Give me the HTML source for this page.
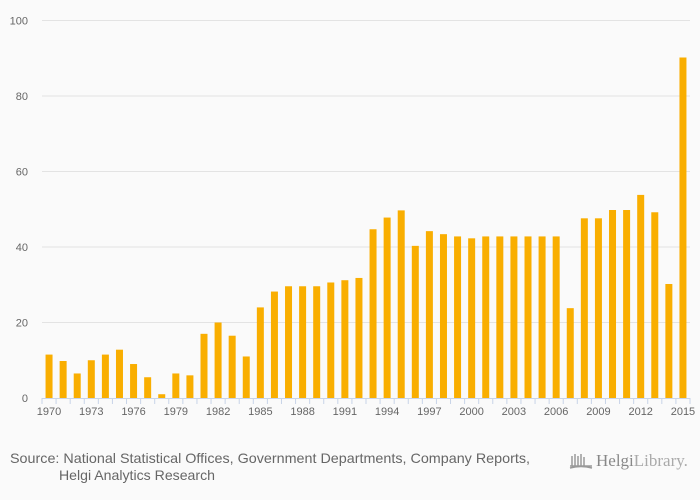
<!DOCTYPE html>
<html><head><meta charset="utf-8"><style>
body{margin:0;background:#fafafa;}
svg{display:block;font-family:"Liberation Sans",sans-serif;}
</style></head><body>
<svg id="chart" width="700" height="500" viewBox="0 0 700 500">
<rect width="700" height="500" fill="#fafafa"/>
<g id="grid"></g><g id="bars"></g><g id="xaxis"></g>
<text x="10" y="463" font-size="14" fill="#666" textLength="520" lengthAdjust="spacingAndGlyphs">Source: National Statistical Offices, Government Departments, Company Reports,</text>
<text x="59" y="480" font-size="14" fill="#666" textLength="156" lengthAdjust="spacingAndGlyphs">Helgi Analytics Research</text>
<g>
<path d="M570 466 h22 M572 466 v-10 M575 466 v-12 M578 466 v-10 M581 466 v-12 M584 466 v-9 M570 468 q11 -3 22 0" stroke="#999" stroke-width="1.5" fill="none"/>
<text x="596" y="466" font-size="17" fill="#888" font-family="Liberation Serif,serif">Helgi<tspan fill="#aaa">Library.</tspan></text>
</g>
</svg>
<script>
const years=[];for(let y=1970;y<=2015;y++)years.push(y);
const values=[11.5,9.8,6.5,10,11.5,12.8,9,5.5,1,6.5,6,17,20,16.5,11,24,28.2,29.6,29.6,29.6,30.6,31.2,31.8,44.7,47.8,49.7,40.3,44.2,43.4,42.8,42.3,42.8,42.8,42.8,42.8,42.8,42.8,23.8,47.6,47.6,49.8,49.8,53.8,49.2,30.2,90.2];
const yTicks=[0,20,40,60,80,100];
const NS='http://www.w3.org/2000/svg';
const x0=42,x1=690,y0=398,yTop=20.5,ymax=100;
const band=(x1-x0)/years.length;
const yS=v=>y0-(v/ymax)*(y0-yTop);
const xC=i=>x0+band*(i+0.5);
function mk(t,a,p){const e=document.createElementNS(NS,t);for(const k in a)e.setAttribute(k,a[k]);p.appendChild(e);return e;}
const grid=document.getElementById('grid');
yTicks.forEach(t=>{
  if(t>0){const l=mk('line',{x1:x0,x2:x1,y1:yS(t),y2:yS(t),stroke:'#e3e3e3','stroke-width':1},grid);
  
  }
  const tx=mk('text',{x:28,y:yS(t)+4,'text-anchor':'end','font-size':11,fill:'#666'},grid);
  tx.textContent=t;
  
  
});
const bars=document.getElementById('bars');
values.forEach((v,i)=>{
  const r=mk('rect',{x:xC(i)-3.5,y:yS(v),width:7,height:y0-yS(v),fill:'#f9ae00'},bars);
  
  
});
const xa=document.getElementById('xaxis');
const ax=mk('line',{x1:x0,x2:x1,y1:y0+0.5,y2:y0+0.5,stroke:'#c8d4e8','stroke-width':1},xa);


for(let i=0;i<=years.length;i++){
  const t=mk('line',{x1:x0+band*i,x2:x0+band*i,y1:y0,y2:y0+6,stroke:'#c8d4e8','stroke-width':1},xa);
  
  
}
years.forEach((y,i)=>{
  if(i%3!==0)return;
  const tx=mk('text',{x:xC(i),y:y0+17,'text-anchor':'middle','font-size':11,fill:'#666'},xa);
  tx.textContent=y;
  
  
});
</script>
</body></html>
